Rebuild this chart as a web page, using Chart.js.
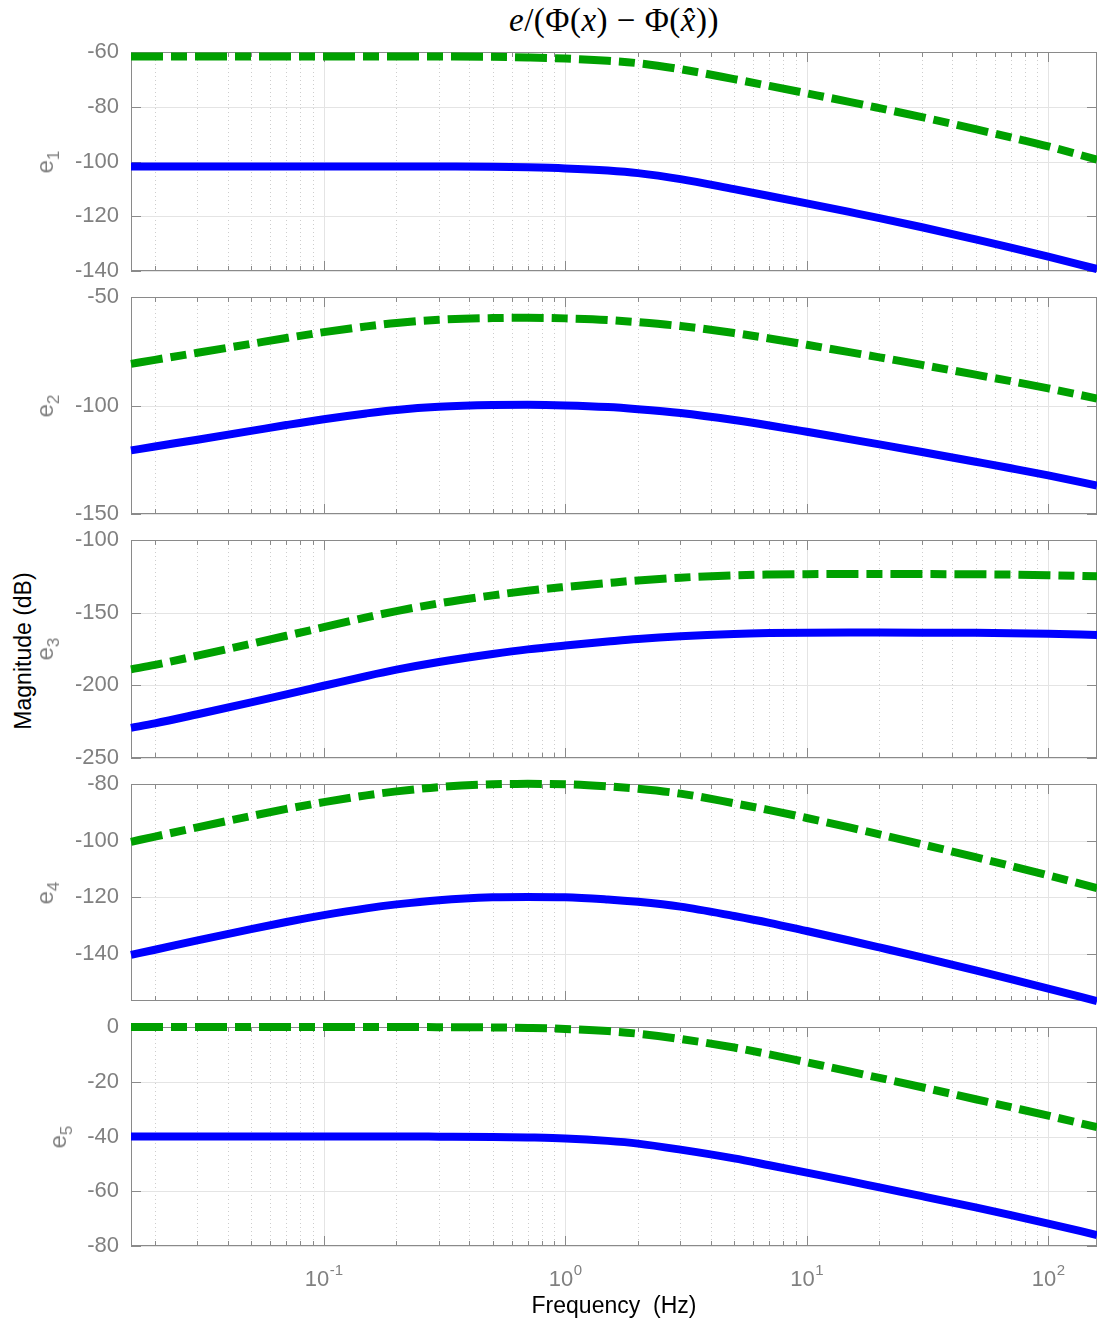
<!DOCTYPE html>
<html>
<head>
<meta charset="utf-8">
<script src="https://cdn.jsdelivr.net/npm/chart.js@4.4.1/dist/chart.umd.min.js"></script>
<style>
html,body{margin:0;padding:0;background:#fff;}
#wrap{position:relative;width:1097px;height:1323px;overflow:hidden;background:#fff;font-family:"Liberation Sans",Arial,sans-serif;}
#wrap canvas{position:absolute;left:0;}
.ylab{position:absolute;transform:translate(-50%,-50%) rotate(-90deg);white-space:nowrap;color:#808080;font-size:24px;line-height:1;}
.ylab sub{font-size:17px;vertical-align:-6px;line-height:0;}
#mag{position:absolute;left:23px;top:651px;transform:translate(-50%,-50%) rotate(-90deg);white-space:nowrap;color:#000;font-size:23px;line-height:1;}
#title{position:absolute;left:131px;width:966px;top:1px;text-align:center;font-family:"Liberation Serif","DejaVu Serif",serif;font-size:33px;line-height:38px;color:#000;letter-spacing:0.5px;}
</style>
</head>
<body>
<div id="wrap">
  <div id="title"><i>e</i>/(Φ(<i>x</i>)&nbsp;−&nbsp;Φ(<i>x̂</i>))</div>
  <div id="mag">Magnitude (dB)</div>
</div>
<script>
// ---------------- data ----------------
const freq = [0.015915, 0.02, 0.03, 0.05, 0.07, 0.1, 0.15, 0.2, 0.3, 0.5, 0.7, 1, 1.5, 2, 3, 5, 7, 10, 15, 20, 30, 50, 70, 100, 159.15];

const e1Green = [-61.6,-61.6,-61.6,-61.6,-61.6,-61.6,-61.6,-61.6,-61.65,-61.75,-62.0,-62.4,-63.2,-64.1,-66.3,-69.9,-72.4,-75.1,-78.2,-80.5,-83.8,-88.2,-91.2,-94.5,-99.3];
const e1Blue  = [-101.8,-101.8,-101.8,-101.8,-101.8,-101.8,-101.8,-101.8,-101.84,-101.91,-102.13,-102.52,-103.31,-104.25,-106.45,-110.11,-112.59,-115.3,-118.43,-120.68,-124.02,-128.46,-131.45,-134.74,-139.27];

const e2Green = [-80.8,-78.95,-75.7,-71.6,-68.9,-66.2,-63.55,-61.95,-60.5,-59.7,-59.6,-59.85,-60.6,-61.6,-63.4,-66.6,-69.1,-72.0,-75.4,-77.8,-81.3,-85.8,-88.8,-92.1,-96.8];
const e2Blue  = [-120.7,-118.9,-115.75,-111.7,-109.0,-106.3,-103.65,-102.05,-100.6,-99.8,-99.7,-99.95,-100.7,-101.7,-103.5,-106.7,-109.2,-112.1,-115.5,-117.9,-121.4,-125.9,-128.9,-132.2,-136.9];

const e3Green = [-189.0,-185.9,-179.6,-171.4,-165.9,-160.0,-153.3,-148.9,-143.6,-138.1,-134.95,-132.3,-129.6,-127.8,-125.9,-124.3,-123.75,-123.5,-123.4,-123.4,-123.45,-123.6,-123.8,-124.2,-125.0];
const e3Blue  = [-229.3,-226.2,-219.9,-211.7,-206.2,-200.3,-193.6,-189.2,-183.9,-178.4,-175.25,-172.6,-169.9,-168.1,-166.2,-164.6,-164.05,-163.8,-163.7,-163.7,-163.75,-163.9,-164.1,-164.5,-165.3];

const e4Green = [-100.4,-98.56,-95.3,-91.3,-88.8,-86.4,-84.0,-82.6,-81.1,-80.1,-79.95,-80.07,-80.85,-81.7,-83.4,-86.8,-89.2,-92.0,-95.34,-97.78,-101.3,-105.85,-108.9,-112.25,-116.78];
const e4Blue  = [-140.3,-138.5,-135.2,-131.2,-128.7,-126.3,-123.9,-122.5,-121.0,-120.0,-119.85,-119.95,-120.75,-121.6,-123.3,-126.6,-129.0,-131.9,-135.25,-137.7,-141.2,-145.8,-148.85,-152.2,-156.65];

const e5Green = [0,0,0,0,0,0,0,0,-0.05,-0.15,-0.35,-0.7,-1.5,-2.45,-4.4,-7.5,-10.0,-12.9,-16.2,-18.6,-22.0,-26.4,-29.3,-32.4,-36.6];
const e5Blue  = [-40,-40,-40,-40,-40,-40,-40,-40,-40.05,-40.15,-40.35,-40.7,-41.6,-42.6,-44.8,-48.0,-50.5,-53.2,-56.3,-58.6,-61.8,-65.9,-68.7,-71.8,-76.0];

const e1Ticks = [-140,-120,-100,-80,-60];
const e2Ticks = [-150,-100,-50];
const e3Ticks = [-250,-200,-150,-100];
const e4Ticks = [-140,-120,-100,-80];
const e5Ticks = [-80,-60,-40,-20,0];

const e1Limits = [-140,-60];
const e2Limits = [-150,-50];
const e3Limits = [-250,-100];
const e4Limits = [-156.6,-80];
const e5Limits = [-80,0];

const xLimits = [0.015915, 159.15];
const xTicks = [0.1, 1, 10, 100];
const xTickBase = ['10','10','10','10'];
const xTickExp = ['-1','0','1','2'];
const panelNames = ['1','2','3','4','5'];

// ---------------- style / layout ----------------
const BLUE = '#0000ff', GREEN = '#00a000', GRAY = '#808080';
const GRID = '#e4e4e4', MINOR = '#cdcdcd', AXIS = '#8a8a8a';
const FONT = '"Liberation Sans", Arial, sans-serif';
const W = 1097, H = 1323, LEFT = 131, PAD = 30, XAXIS_BOTTOM = 1246;

const panels = [
  {green:e1Green, blue:e1Blue, ticks:e1Ticks, lim:e1Limits, top:52,  bottom:271,  lx:45},
  {green:e2Green, blue:e2Blue, ticks:e2Ticks, lim:e2Limits, top:297, bottom:514,  lx:45},
  {green:e3Green, blue:e3Blue, ticks:e3Ticks, lim:e3Limits, top:540, bottom:758,  lx:45},
  {green:e4Green, blue:e4Blue, ticks:e4Ticks, lim:e4Limits, top:784, bottom:1001, lx:45},
  {green:e5Green, blue:e5Blue, ticks:e5Ticks, lim:e5Limits, top:1027,bottom:1246, lx:58}
];

function axesPlugin(yTicks, last) {
  return {
    id: 'matlabAxes',
    beforeDatasetsDraw(chart) {
      const {ctx, chartArea, scales} = chart;
      const {left, right, top, bottom} = chartArea;
      const x = scales.x, y = scales.y;
      ctx.save();
      ctx.lineWidth = 1;
      const minors = [];
      for (let n = -2; n <= 2; n++) {
        for (let k = 2; k <= 9; k++) {
          const f = k * Math.pow(10, n);
          if (f > xLimits[0] && f < xLimits[1]) minors.push(f);
        }
      }
      ctx.strokeStyle = MINOR;
      ctx.setLineDash([1, 3]);
      minors.forEach(f => {
        const px = Math.round(x.getPixelForValue(f)) + 0.5;
        ctx.beginPath(); ctx.moveTo(px, top); ctx.lineTo(px, bottom); ctx.stroke();
      });
      ctx.setLineDash([]);
      ctx.strokeStyle = GRID;
      xTicks.forEach(f => {
        const px = Math.round(x.getPixelForValue(f)) + 0.5;
        ctx.beginPath(); ctx.moveTo(px, top); ctx.lineTo(px, bottom); ctx.stroke();
      });
      yTicks.forEach(v => {
        const py = Math.round(y.getPixelForValue(v)) + 0.5;
        ctx.beginPath(); ctx.moveTo(left, py); ctx.lineTo(right, py); ctx.stroke();
      });
      ctx.strokeStyle = AXIS;
      ctx.strokeRect(left + 0.5, top + 0.5, right - left - 1, bottom - top - 1);
      ctx.beginPath();
      minors.forEach(f => {
        const px = Math.round(x.getPixelForValue(f)) + 0.5;
        ctx.moveTo(px, bottom); ctx.lineTo(px, bottom - 5);
        ctx.moveTo(px, top); ctx.lineTo(px, top + 5);
      });
      xTicks.forEach(f => {
        const px = Math.round(x.getPixelForValue(f)) + 0.5;
        ctx.moveTo(px, bottom); ctx.lineTo(px, bottom - 10);
        ctx.moveTo(px, top); ctx.lineTo(px, top + 10);
      });
      yTicks.forEach(v => {
        const py = Math.round(y.getPixelForValue(v)) + 0.5;
        ctx.moveTo(left, py); ctx.lineTo(left + 10, py);
        ctx.moveTo(right, py); ctx.lineTo(right - 10, py);
      });
      ctx.stroke();

      // decade tick labels with superscripts (bottom panel only)
      if (last) {
        ctx.fillStyle = GRAY;
        ctx.textBaseline = 'alphabetic';
        ctx.textAlign = 'left';
        const baseFont = '22px ' + FONT, expFont = '15px ' + FONT;
        xTicks.forEach((f, k) => {
          const px = x.getPixelForValue(f);
          ctx.font = baseFont; const wb = ctx.measureText(xTickBase[k]).width;
          ctx.font = expFont;  const we = ctx.measureText(xTickExp[k]).width;
          const x0 = px - (wb + we) / 2;
          ctx.font = baseFont; ctx.fillText(xTickBase[k], x0, bottom + 40);
          ctx.font = expFont;  ctx.fillText(xTickExp[k], x0 + wb + 0.5, bottom + 29);
        });
      }
      ctx.restore();
    }
  };
}

const wrap = document.getElementById('wrap');

panels.forEach((p, i) => {
  const last = i === panels.length - 1;
  const cTop = p.top - PAD;
  const cH = last ? (H - cTop) : (p.bottom - p.top + 2 * PAD);
  const c = document.createElement('canvas');
  c.width = W; c.height = cH;
  c.style.top = cTop + 'px';
  c.style.width = W + 'px'; c.style.height = cH + 'px';
  wrap.appendChild(c);

  const lab = document.createElement('div');
  lab.className = 'ylab';
  lab.innerHTML = 'e<sub>' + panelNames[i] + '</sub>';
  lab.style.left = p.lx + 'px';
  lab.style.top = ((p.top + p.bottom) / 2) + 'px';
  wrap.appendChild(lab);

  new Chart(c, {
    type: 'line',
    data: {
      datasets: [
        {
          label: 'e' + panelNames[i] + ' (dash-dot)',
          data: freq.map((f, k) => ({x: f, y: p.green[k]})),
          borderColor: GREEN, borderWidth: 8,
          borderDash: [32, 8, 16, 8], borderCapStyle: 'butt',
          pointRadius: 0, cubicInterpolationMode: 'monotone', clip: false, fill: false
        },
        {
          label: 'e' + panelNames[i] + ' (solid)',
          data: freq.map((f, k) => ({x: f, y: p.blue[k]})),
          borderColor: BLUE, borderWidth: 8, borderCapStyle: 'butt',
          pointRadius: 0, cubicInterpolationMode: 'monotone', clip: false, fill: false
        }
      ]
    },
    options: {
      responsive: false, animation: false, events: [], devicePixelRatio: 1,
      layout: {padding: {left: 0, right: 0, top: PAD, bottom: last ? 0 : PAD}},
      plugins: {legend: {display: false}, tooltip: {enabled: false}, title: {display: false}},
      scales: {
        x: {
          type: 'logarithmic', min: xLimits[0], max: xLimits[1],
          display: last,
          grid: {display: false, drawTicks: false},
          border: {display: false},
          afterBuildTicks: s => { s.ticks = xTicks.map(v => ({value: v})); },
          afterFit: s => { s.height = last ? (H - XAXIS_BOTTOM) : 0; },
          ticks: {display: false},
          title: {display: true, text: 'Frequency  (Hz)', color: '#000',
                  font: {family: FONT, size: 23}, padding: {top: 0, bottom: 3}}
        },
        y: {
          min: p.lim[0], max: p.lim[1],
          grid: {display: false, drawTicks: false},
          border: {display: false},
          afterBuildTicks: s => { s.ticks = p.ticks.map(v => ({value: v})); },
          afterFit: s => { s.width = LEFT; },
          ticks: {color: GRAY, padding: 12, font: {family: FONT, size: 22}, callback: v => String(v)}
        }
      }
    },
    plugins: [axesPlugin(p.ticks, last)]
  });
});
</script>
</body>
</html>
